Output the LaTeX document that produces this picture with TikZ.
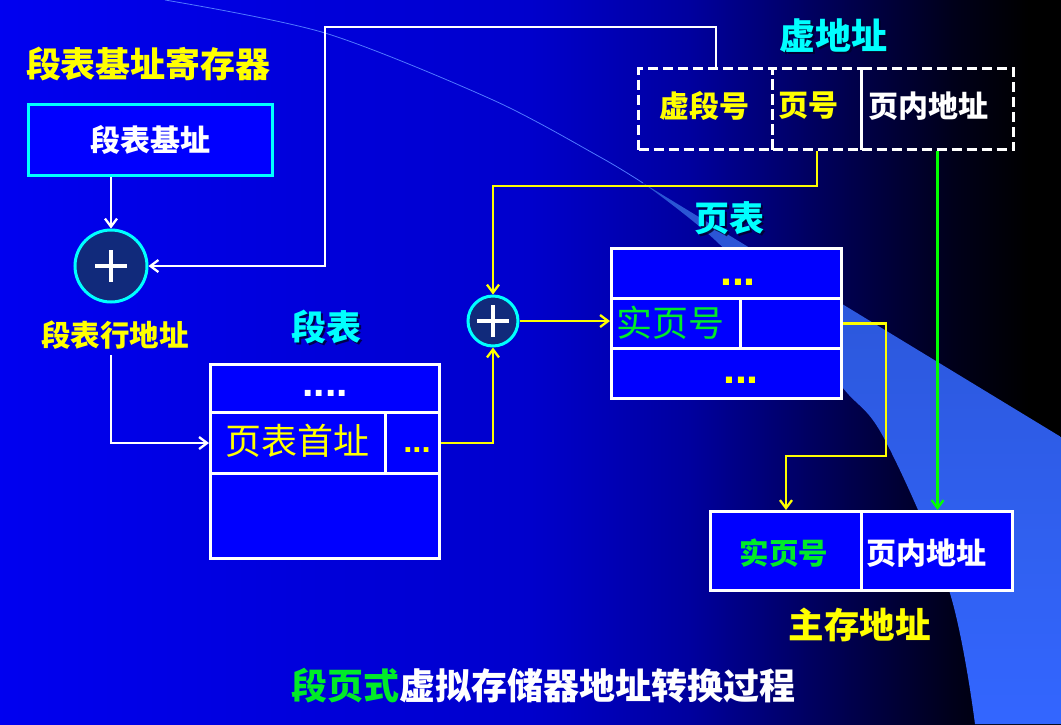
\documentclass[tikz,border=0pt]{standalone}
\usepackage{fontspec}
\newfontfamily\cjk{Noto Sans CJK SC}
\newfontfamily\dotf{Liberation Sans}
\usetikzlibrary{arrows.meta,calc}
\definecolor{boxblue}{RGB}{0,0,255}
\definecolor{addfill}{RGB}{17,42,123}
\definecolor{ycol}{RGB}{255,255,0}
\definecolor{ccol}{RGB}{0,255,255}
\definecolor{gcol}{RGB}{0,235,40}
\definecolor{lgreen}{RGB}{0,255,0}
\definecolor{swtop}{RGB}{42,84,210}
\definecolor{swbot}{RGB}{51,102,255}
\definecolor{arcline}{RGB}{80,120,255}
\definecolor{shadowc}{RGB}{0,0,40}
\pgfdeclarehorizontalshading{bgshade}{100bp}{rgb(0bp)=(0,0,0.94); rgb(25bp)=(0,0,0.94); rgb(50bp)=(0,0,0.80); rgb(57.5bp)=(0,0,0.62); rgb(65bp)=(0,0,0.30); rgb(70bp)=(0,0,0.10); rgb(73.5bp)=(0,0,0); rgb(100bp)=(0,0,0)}
\tikzset{
  cell/.style={draw=white, line width=3pt, fill=boxblue, anchor=north west, inner sep=0pt},
  vcell/.style={draw=white, line width=3pt, dash pattern=on 10pt off 5pt, anchor=north west, inner sep=0pt},
  adder/.style={circle, draw=ccol, line width=3pt, fill=addfill, minimum size=50pt, inner sep=0pt},
  plusbar/.style={draw=white, line width=4.5pt},
  wline/.style={draw=white, line width=2.3pt},
  yline/.style={draw=ycol, line width=2.3pt},
  gline/.style={draw=lgreen, line width=2.3pt},
  arr/.style={-{Straight Barb[length=8pt,width=12pt]}},
  txt/.style={inner sep=0pt, font=\cjk\bfseries\fontsize{#1}{#1}\selectfont},
  serif/.style={inner sep=0pt, font=\cjk\fontsize{#1}{#1}\selectfont},
  dotsz/.style={inner sep=0pt, font=\dotf\bfseries\fontsize{#1}{#1}\selectfont}
}
\begin{document}
\begin{tikzpicture}[x=1pt,y=-1pt]
\useasboundingbox (0,0) rectangle (1061,724);
% background
\shade[shading=bgshade] (0,0) rectangle (1061,724);
\shade[top color=swtop, bottom color=swbot] (1061,437) -- (1061,724) -- plot[smooth, tension=0.6] coordinates {(975,724) (949,590) (885,440) (843,388) (790,320) (715,240) (643,183)} -- cycle;
\draw[arcline, line width=0.8pt] plot[smooth] coordinates {(165,0) (325,33) (493,100) (600,157) (643,183)};

% segment table base register
\node[txt=35, text=ycol] (regtitle) at (148.5,64) {段表基址寄存器};
\node[cell, draw=ccol, minimum width=244pt, minimum height=71pt] (sbr) at (27,103) {};
\node[txt=30, text=white] (sbrtxt) at (150,140) {段表基址};

% adders
\node[adder, minimum size=72pt] (add1) at (111,266) {};
\draw[plusbar] ($(add1.center)+(-16,0)$) -- ($(add1.center)+(16,0)$);
\draw[plusbar] ($(add1.center)+(0,-16)$) -- ($(add1.center)+(0,16)$);
\node[adder, minimum size=50pt] (add2) at (493,321) {};
\draw[plusbar] ($(add2.center)+(-16,0)$) -- ($(add2.center)+(16,0)$);
\draw[plusbar] ($(add2.center)+(0,-16)$) -- ($(add2.center)+(0,16)$);

\node[txt=29.5, text=ycol] (lbl2) at (115,335) {段表行地址};

% segment table
\node[txt=35, text=shadowc, opacity=0.8] (sttitleS) at (328,329) {段表};
\node[txt=35, text=ccol] (sttitle) at (326,327) {段表};
\node[cell, minimum width=229pt, minimum height=48pt] (st1) at (209,363) {};
\node[cell, minimum width=175pt, minimum height=61pt] (st2) at (209,411) {};
\node[cell, minimum width=54pt, minimum height=61pt] (st2b) at (384,411) {};
\node[cell, minimum width=229pt, minimum height=85pt] (st3) at (209,472) {};
\node[dotsz=41, text=white] (stdots1) at (325,393) {....};
\node[serif=36, text=ycol] (sttxt) at (297,441) {页表首址};
\node[dotsz=33, text=ycol] (stdots2) at (417,450) {...};

% virtual address
\node[txt=36, text=shadowc, opacity=0.8] (vatitleS) at (835,38) {虚地址};
\node[txt=36, text=ccol] (vatitle) at (833,36) {虚地址};
\node[vcell, minimum width=134pt, minimum height=81pt] (va1) at (637,67) {};
\node[vcell, minimum width=89pt, minimum height=81pt] (va2) at (771,67) {};
\node[vcell, minimum width=152pt, minimum height=81pt] (va3) at (860,67) {};
\node[txt=30, text=ycol] (vat1) at (704,106) {虚段号};
\node[txt=30, text=ycol] (vat2) at (808,106) {页号};
\node[txt=30, text=white] (vat3) at (928,106) {页内地址};

% page table
\node[txt=35, text=shadowc, opacity=0.8] (pttitleS) at (731,220) {页表};
\node[txt=35, text=ccol] (pttitle) at (729.5,218) {页表};
\node[cell, minimum width=230pt, minimum height=50pt] (pt1) at (610,247) {};
\node[cell, minimum width=129pt, minimum height=50pt] (pt2) at (610,297) {};
\node[cell, minimum width=101pt, minimum height=50pt] (pt2b) at (739,297) {};
\node[cell, minimum width=230pt, minimum height=50pt] (pt3) at (610,347) {};
\node[dotsz=43, text=ycol] (ptdots1) at (738,282) {...};
\node[serif=36, text=gcol] (pttxt) at (670,323) {实页号};
\node[dotsz=43, text=ycol] (ptdots2) at (741,380) {...};

% main memory address
\node[cell, minimum width=151pt, minimum height=79pt] (ma1) at (709,510) {};
\node[cell, minimum width=151pt, minimum height=79pt] (ma2) at (860,510) {};
\node[txt=29.5, text=gcol] (mat1) at (784,553) {实页号};
\node[txt=30, text=white] (mat2) at (926.5,553) {页内地址};
\node[txt=35.5, text=ycol] (matitle) at (859.5,625) {主存地址};

% bottom title
\node[txt=36, text=white] (caption) at (543,686) {\textcolor{gcol}{段页式}虚拟存储器地址转换过程};

% connectors
\coordinate (j1) at (716,27);
\coordinate (j2) at (325,27);
\draw[wline,arr] (va1.north -| j1) -- (j1) -- (j2) |- (add1.east);
\draw[wline,arr] (sbr.south -| add1.north) -- (add1.north);
\coordinate (lblfoot) at (111,355);
\draw[wline,arr] (lblfoot) |- (st2.west);
\draw[yline,arr] (st2b.east) -| (add2.south);
\draw[yline,arr] (va2.south) -- ++(0,35) -| (add2.north);
\draw[yline,arr] (add2.east) -- (add2.east -| pt2.west);
\coordinate (j4) at (886,456);
\draw[yline,arr] (pt2b.east) -| (j4) -| (ma1.north);
\draw[gline,arr] (va3.south) -- (va3.south |- ma2.north);
\end{tikzpicture}
\end{document}
